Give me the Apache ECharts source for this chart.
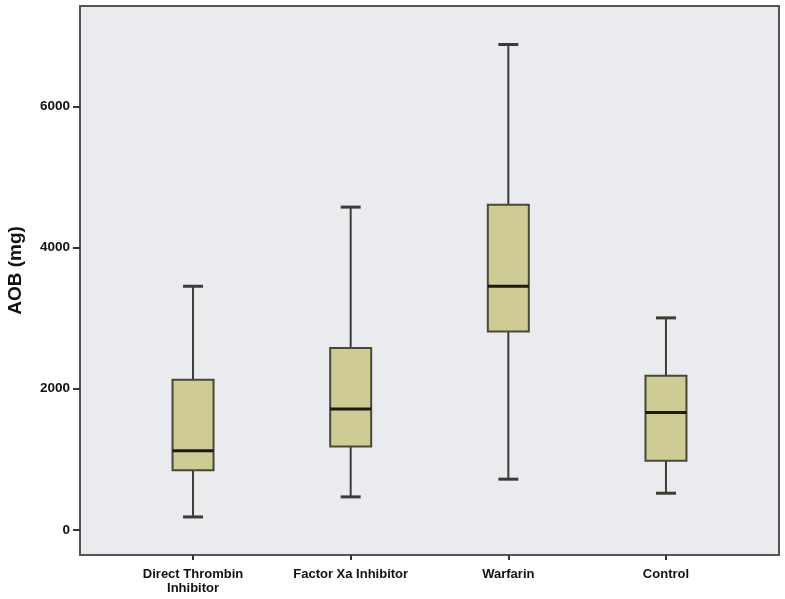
<!DOCTYPE html>
<html style="height: 100%">
<head>
<meta charset="utf-8">
<script src="https://cdn.jsdelivr.net/npm/echarts@6/dist/echarts.min.js"></script>
</head>
<body style="height: 100%; margin: 0; background: #fff">
<div id="container" style="width: 785px; height: 599px"></div>
<script type="text/javascript">
// box plot summaries (mg)
var groups = ['Direct Thrombin\nInhibitor', 'Factor Xa Inhibitor', 'Warfarin', 'Control'];
var lows    = [184, 468, 719, 520];
var q1s     = [847, 1182, 2809, 979];
var medians = [1121, 1712, 3451, 1664];
var q3s     = [2128, 2577, 4605, 2184];
var highs   = [3451, 4572, 6875, 3003];
var yTicks  = [0, 2000, 4000, 6000];

var dom = document.getElementById('container');
var myChart = echarts.init(dom);

var boxData = groups.map(function (g, i) {
    return [i, lows[i], q1s[i], medians[i], q3s[i], highs[i]];
});

var lineCol = '#3c3c34';

function renderBox(params, api) {
    var i = api.value(0);
    var pLow = api.coord([i, api.value(1)]);
    var pQ1 = api.coord([i, api.value(2)]);
    var pMed = api.coord([i, api.value(3)]);
    var pQ3 = api.coord([i, api.value(4)]);
    var pHigh = api.coord([i, api.value(5)]);
    var x = pMed[0];
    var bw = 41, cw = 20;
    var thin = { stroke: lineCol, lineWidth: 2 };
    return {
        type: 'group',
        children: [
            { type: 'line', shape: { x1: x, y1: pHigh[1], x2: x, y2: pQ3[1] }, style: thin },
            { type: 'line', shape: { x1: x, y1: pQ1[1], x2: x, y2: pLow[1] }, style: thin },
            { type: 'line', shape: { x1: x - cw / 2, y1: pHigh[1], x2: x + cw / 2, y2: pHigh[1] }, style: { stroke: lineCol, lineWidth: 3 } },
            { type: 'line', shape: { x1: x - cw / 2, y1: pLow[1], x2: x + cw / 2, y2: pLow[1] }, style: { stroke: lineCol, lineWidth: 3 } },
            { type: 'rect', shape: { x: x - bw / 2, y: pQ3[1], width: bw, height: pQ1[1] - pQ3[1] },
              style: { fill: '#cfcb95', stroke: '#4a4836', lineWidth: 2 } },
            { type: 'line', shape: { x1: x - bw / 2, y1: pMed[1], x2: x + bw / 2, y2: pMed[1] }, style: { stroke: '#1a1a10', lineWidth: 3 } }
        ]
    };
}

option = {
    animation: false,
    textStyle: { fontFamily: 'Liberation Sans, Arial, sans-serif' },
    grid: {
        left: 80, right: 6, top: 6, bottom: 44,
        outerBoundsMode: 'none',
        show: true,
        backgroundColor: '#e9ebee',
        borderColor: '#555555',
        borderWidth: 2
    },
    xAxis: {
        type: 'value',
        min: -0.717,
        max: 3.717,
        splitLine: { show: false },
        axisLine: { show: true, onZero: false, lineStyle: { color: '#555', width: 2 } },
        axisTick: { show: true, customValues: [0, 1, 2, 3], length: 5, lineStyle: { color: '#333', width: 2 } },
        axisLabel: {
            customValues: [0, 1, 2, 3],
            formatter: function (v) { return groups[Math.round(v)]; },
            color: '#111', fontWeight: 'bold', fontSize: 13, lineHeight: 14, margin: 12
        }
    },
    yAxis: {
        type: 'value',
        min: -355,
        max: 7420,
        name: 'AOB (mg)',
        nameLocation: 'middle',
        nameGap: 55,
        nameTextStyle: { fontWeight: 'bold', fontSize: 19, color: '#111', padding: [0, 0, 0, 20] },
        splitLine: { show: false },
        axisLine: { show: true, onZero: false, lineStyle: { color: '#555', width: 2 } },
        axisTick: { show: true, customValues: yTicks, length: 7, lineStyle: { color: '#333', width: 2 } },
        axisLabel: {
            customValues: yTicks,
            formatter: function (v) { return String(v); },
            color: '#111', fontWeight: 'bold', fontSize: 13.5, margin: 10
        }
    },
    series: [{
        type: 'custom',
        renderItem: renderBox,
        encode: { x: 0, y: [1, 2, 3, 4, 5] },
        data: boxData
    }]
};

if (option && typeof option === 'object') {
    myChart.setOption(option, true);
}
</script>
</body>
</html>
